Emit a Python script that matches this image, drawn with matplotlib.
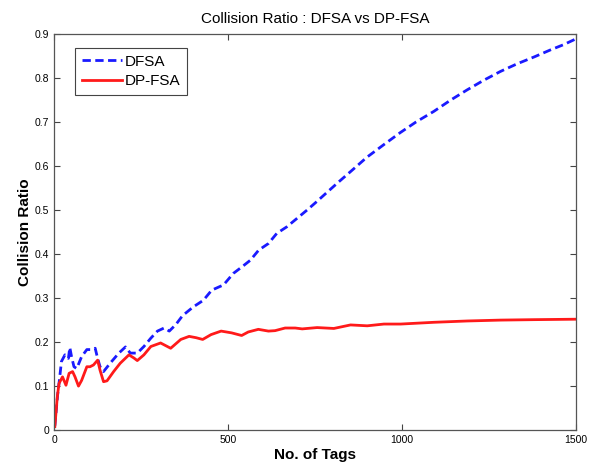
import matplotlib
matplotlib.use("Agg")
import matplotlib.pyplot as plt

plt.rcParams['font.family'] = ['Liberation Sans', 'DejaVu Sans']

# DFSA (blue dashed)
dfsa_x = [2, 10, 14, 21, 31, 41, 45, 50, 57, 65, 79, 94, 108, 118, 125, 132,
          142, 161, 186, 205, 219, 239, 258, 278, 297, 316, 331, 350, 369, 400,
          429, 453, 487, 515, 540, 564, 588, 616, 640, 669, 698, 727, 756, 784,
          818, 850, 899, 950, 995, 1040, 1091, 1140, 1187, 1235, 1283, 1330,
          1380, 1427, 1465, 1500]
dfsa_y = [0.01, 0.08, 0.106, 0.156, 0.171, 0.163, 0.188, 0.167, 0.144, 0.14,
          0.167, 0.183, 0.183, 0.186, 0.163, 0.144, 0.133, 0.152, 0.175, 0.189,
          0.175, 0.175, 0.19, 0.209, 0.225, 0.232, 0.225, 0.24, 0.26, 0.28,
          0.295, 0.318, 0.33, 0.356, 0.371, 0.386, 0.409, 0.424, 0.447, 0.462,
          0.481, 0.5, 0.52, 0.54, 0.564, 0.586, 0.62, 0.65, 0.676, 0.70,
          0.724, 0.75, 0.773, 0.795, 0.815, 0.832, 0.848, 0.864, 0.876, 0.889]

# DP-FSA (red solid)
dpfsa_x = [2, 9, 14, 24, 34, 43, 53, 60, 70, 79, 94, 103, 113, 125, 132, 142,
           152, 171, 190, 215, 229, 239, 258, 278, 306, 335, 364, 388, 408, 427,
           451, 480, 510, 539, 558, 587, 616, 635, 664, 693, 713, 756, 804, 852,
           900, 948, 996, 1092, 1188, 1284, 1380, 1500]
dpfsa_y = [0.008, 0.075, 0.106, 0.121, 0.102, 0.129, 0.133, 0.121, 0.1, 0.113,
           0.144, 0.144, 0.148, 0.159, 0.136, 0.11, 0.112, 0.133, 0.152, 0.171,
           0.164, 0.158, 0.171, 0.19, 0.198, 0.186, 0.206, 0.213, 0.21, 0.206,
           0.217, 0.225, 0.221, 0.215, 0.223, 0.229, 0.225, 0.226, 0.232, 0.232,
           0.23, 0.233, 0.231, 0.239, 0.237, 0.241, 0.241, 0.245, 0.248, 0.25,
           0.251, 0.252]

xticks = [0, 500, 1000, 1500]
yticks = [0, 0.1, 0.2, 0.3, 0.4, 0.5, 0.6, 0.7, 0.8, 0.9]

fig = plt.figure(figsize=(5.95, 4.66), dpi=100)
ax = fig.add_axes([0.091, 0.077, 0.877, 0.85])

ax.plot(dfsa_x, dfsa_y, color='#1a1aff', linestyle='--', linewidth=2,
        dashes=(3, 1.6), label='DFSA')
ax.plot(dpfsa_x, dpfsa_y, color='#ff1a1a', linestyle='-', linewidth=2,
        label='DP-FSA')

ax.set_xlim(0, 1500)
ax.set_ylim(0, 0.9)
ax.set_xticks(xticks)
ax.set_yticks(yticks)
ax.set_yticklabels(['0', '0.1', '0.2', '0.3', '0.4', '0.5', '0.6', '0.7', '0.8', '0.9'])
ax.tick_params(direction='in', top=True, right=True, labelsize=7.5,
               length=4, width=0.8, color='#444444')
for s in ax.spines.values():
    s.set_color('#555555')
    s.set_linewidth(0.9)

ax.set_title('Collision Ratio : DFSA vs DP-FSA', fontsize=11, pad=8)
ax.set_xlabel('No. of Tags', fontsize=11, fontweight='bold', labelpad=2)
ax.set_ylabel('Collision Ratio', fontsize=11, fontweight='bold', labelpad=2)

leg = ax.legend(loc='upper left', bbox_to_anchor=(0.04, 0.965), fontsize=11,
                fancybox=False, framealpha=1, edgecolor='#444444',
                handlelength=2.6, borderpad=0.45, labelspacing=0.35,
                handletextpad=0.2, borderaxespad=0)
leg.get_frame().set_linewidth(0.8)

fig.savefig('out.png', dpi=100)
